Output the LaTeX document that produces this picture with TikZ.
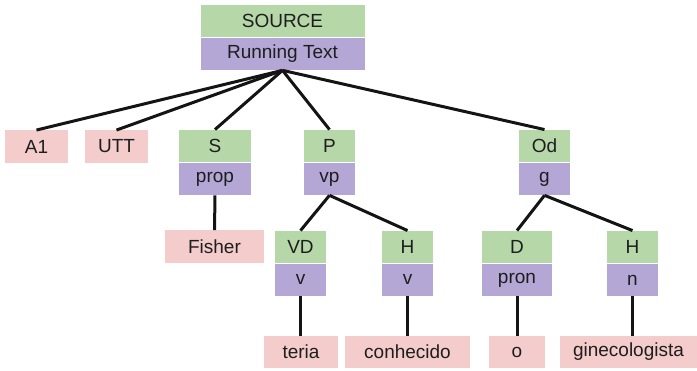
\documentclass[tikz,border=0pt]{standalone}
\usepackage{fontspec}
\setmainfont{Liberation Sans}
\usepackage{tikz}
\usetikzlibrary{positioning}

\definecolor{taggreen}{HTML}{B6D7A8}
\definecolor{catpurple}{HTML}{B4A7D6}
\definecolor{wordpink}{HTML}{F4CCCC}
\definecolor{inkgray}{HTML}{1E1E1E}

\begin{document}
\begin{tikzpicture}[x=1pt, y=-1pt,
			box/.style={inner sep=0pt, minimum height=32.5pt, text=inkgray,
				font=\fontsize{19}{22}\selectfont},
			tag/.style={box, fill=taggreen},
			cat/.style={box, fill=catpurple},
			word/.style={box, fill=wordpink},
			branch/.style={line width=3pt, draw=black!92}]
			\useasboundingbox (0,0) rectangle (697,370);
			% root
			\node[tag, minimum width=164pt] (src) at (282.5,21) {SOURCE};
			\node[cat, minimum width=164pt, below=0pt of src] (srcC) {Running Text};
			% first level
			\node[word, minimum width=63pt] (a1) at (36.5,146.5) {A1};
			\node[word, minimum width=63pt] (utt) at (116.5,146.5) {UTT};
			\node[tag, minimum width=72pt] (s) at (215,146) {S};
			\node[cat, minimum width=72pt, below=0pt of s] (sC) {prop};
			\node[tag, minimum width=51pt] (p) at (329.5,146) {P};
			\node[cat, minimum width=51pt, below=0pt of p] (pC) {vp};
			\node[tag, minimum width=51pt] (od) at (544.5,146) {Od};
			\node[cat, minimum width=51pt, below=0pt of od] (odC) {g};
			% second level
			\node[word, minimum width=99pt] (fisher) at (214.5,246.5) {Fisher};
			\node[tag, minimum width=51pt] (vd) at (300.5,247) {VD};
			\node[cat, minimum width=51pt, below=0pt of vd] (vdC) {v};
			\node[tag, minimum width=51pt] (hv) at (407.5,247) {H};
			\node[cat, minimum width=51pt, below=0pt of hv] (hvC) {v};
			\node[tag, minimum width=70pt] (d) at (517,247) {D};
			\node[cat, minimum width=70pt, below=0pt of d] (dC) {pron};
			\node[tag, minimum width=51pt] (hn) at (632.5,247) {H};
			\node[cat, minimum width=51pt, below=0pt of hn] (hnC) {n};
			% words
			\node[word, minimum width=74pt] (teria) at (301,352) {teria};
			\node[word, minimum width=125pt] (conh) at (407.5,352) {conhecido};
			\node[word, minimum width=56pt] (o) at (517,352) {o};
			\node[word, minimum width=137pt] (gine) at (628.5,352) {ginecologista};
			% branches
			\foreach \c in {a1,utt,s,p,od}
				\draw[branch] (srcC.south) -- (\c.north);
			\draw[branch] (sC.south) -- (fisher.north);
			\foreach \c in {vd,hv}
				\draw[branch] (pC.south) -- (\c.north);
			\foreach \c in {d,hn}
				\draw[branch] (odC.south) -- (\c.north);
			\draw[branch] (vdC.south) -- (vdC.south |- teria.north);
			\draw[branch] (hvC.south) -- (conh.north);
			\draw[branch] (dC.south) -- (o.north);
			\draw[branch] (hnC.south) -- (hnC.south |- gine.north);
		\end{tikzpicture}
\end{document}
